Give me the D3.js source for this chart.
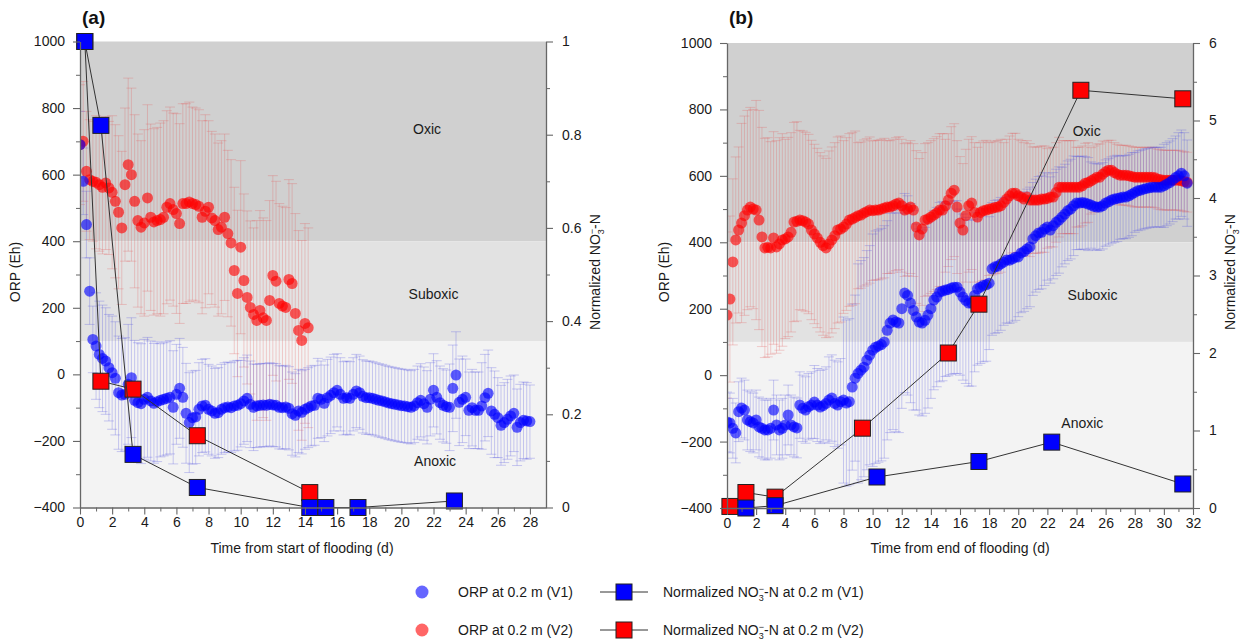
<!DOCTYPE html>
<html><head><meta charset="utf-8">
<script src="https://cdn.jsdelivr.net/npm/d3@7"></script>
<style>
body{margin:0;background:#fff}
svg{display:block;font-family:"Liberation Sans",Arial,sans-serif}
</style>
</head><body>
<svg id="chart" width="1243" height="642"></svg>
<script>
// ---------------- DATA ----------------
const STEP_DAYS = 0.2; // ORP logging interval used in these arrays (days)

// Panel (a): time from start of flooding
const orpV1_a = [690,580,450,250,105,85,60,48,40,20,
 5,-12,-55,-62,-60,-30,-10,-78,-85,-88,
 -75,-69,-80,-87,-82,-78,-75,-72,-69,-99,
 -60,-42,-69,-117,-145,-130,-128,-105,-95,-93,
 -105,-110,-117,-115,-105,-100,-98,-100,-95,-93,
 -88,-80,-72,-90,-99,-95,-93,-92,-93,-90,
 -92,-93,-99,-100,-98,-102,-118,-123,-110,-114,
 -105,-100,-95,-93,-72,-75,-87,-70,-63,-55,
 -48,-60,-72,-70,-72,-60,-50,-55,-66,-70,
 -70,-72,-75,-78,-80,-83,-86,-88,-90,-92,
 -94,-95,-97,-99,-95,-85,-78,-88,-99,-75,
 -48,-69,-85,-93,-97,-99,-42,-2,-84,-75,
 -69,-108,-100,-108,-108,-95,-70,-57,-110,-120,
 -130,-153,-145,-135,-125,-117,-159,-145,-138,-140,
 -142];
const sdV1_a = [100,160,170,180,180,170,150,140,135,135,130,125,125,125,120,115,110,110,110,110,110,110,110,130,115,130,120,115,110];

const orpV2_a = [690,700,610,585,580,577,570,562,575,560,
 547,520,487,440,570,630,600,520,462,442,
 455,530,472,458,462,465,472,502,513,495,
 483,453,513,513,518,513,510,505,472,490,
 502,470,462,435,442,472,423,395,312,243,
 382,282,231,201,180,162,192,170,162,222,
 297,280,213,205,201,285,273,183,132,102,
 153,140];
const sdV2_a = [180,200,230,260,280,290,300,290,260,250,260,300,300,300,300];

const no3DaysV1_a = [0.3,1.3,3.3,7.3,14.3,15.3,17.3,23.3];
const no3V1_a     = [1.0,0.82,0.114,0.043,0.0,0.0,0.0,0.014];
const no3DaysV2_a = [0.3,1.3,3.3,7.3,14.3];
const no3V2_a     = [1.0,0.271,0.254,0.154,0.032];

// Panel (b): time from end of flooding
const orpV1_b = [-141,-144,-160,-174,-110,-99,-105,-135,-140,-144,
 -135,-156,-160,-165,-165,-160,-105,-150,-165,-160,
 -150,-120,-150,-156,-159,-90,-100,-105,-95,-90,
 -81,-90,-96,-92,-85,-75,-69,-85,-90,-80,
 -75,-84,-80,-36,-9,5,15,24,45,60,
 75,84,88,92,100,135,157,166,160,157,
 200,247,240,217,195,175,160,157,165,181,
 200,226,235,250,253,256,258,262,265,265,
 250,235,225,217,217,240,260,265,270,272,
 277,320,326,328,335,340,347,346,350,355,
 356,368,372,380,386,410,420,428,430,440,
 446,437,450,460,467,476,485,495,500,510,
 518,518,520,518,515,512,508,506,506,510,
 518,522,527,530,532,534,536,536,540,545,
 550,555,557,560,562,564,566,566,566,566,
 570,575,580,587,595,600,608,600,578];
const sdV1_b = [90,90,90,90,90,100,110,130,250,330,350,330,300,280,270,260,250,230,200,190,180,170,160,150,140,130,130,125,120,120,125,130];

const orpV2_b = [181,229,341,407,437,458,480,497,506,500,
 497,467,416,383,385,383,413,386,395,407,
 410,416,430,461,463,467,465,461,455,437,
 425,413,400,390,383,395,407,420,437,440,
 446,455,467,470,475,480,482,488,492,497,
 495,497,497,500,503,506,506,510,515,518,
 510,497,500,506,497,446,422,440,467,470,
 476,482,488,497,497,510,527,548,557,506,
 458,437,480,510,518,490,476,490,495,497,
 500,502,505,506,510,520,530,540,548,548,
 540,536,530,536,527,527,527,527,530,530,
 532,536,536,550,566,566,566,566,566,566,
 566,566,570,578,580,585,590,596,596,605,
 612,617,617,610,605,602,602,602,600,598,
 596,596,596,596,596,596,596,594,590,588,
 587,587,587,587,587,587,585,583,581];
const sdV2_b = [250,300,330,320,300,270,270,280,260,220,210,200,200,230,230,200,200,210,200,180,170,160,150,140,120,100,90,90,90,90,90,90];

const no3DaysV1_b = [1.3,3.3,10.3,17.3,22.3,31.3];
const no3V1_b     = [0.0,0.03,0.40,0.60,0.85,0.31];
const no3DaysV2_b = [0.2,1.3,3.3,9.3,15.2,17.3,24.3,31.3];
const no3V2_b     = [0.02,0.20,0.14,1.03,2.0,2.63,5.39,5.28];

const zoneNames = ["Oxic","Suboxic","Anoxic"];
const zoneBounds = [[400,1000],[100,400],[-400,100]];
const orpTicks = [-400,-200,0,200,400,600,800,1000];
const legendLabels = ["ORP at 0.2 m (V1)","ORP at 0.2 m (V2)"];

// ---------------- DRAW ----------------
const svg = d3.select("#chart");
const zoneFill = ["#d0d0d0","#e2e2e2","#f3f3f3"];
const BLUE = "#0000ff", RED = "#ff0000";
const AX = "#666", TXT = "#1a1a1a";

function series(vals, sds){
  return vals.map((v,i)=>{const t=i*STEP_DAYS; return {t, v, sd: sds[Math.min(sds.length-1, Math.floor(t+1e-9))]};});
}

function styleAxis(g){
  g.select(".domain").attr("stroke",AX).attr("stroke-width",1.3);
  g.selectAll(".tick line").attr("stroke",AX).attr("stroke-width",1.1);
  g.selectAll(".tick text").attr("fill",TXT).attr("font-size",14);
}

function panel(cfg){
  const x = d3.scaleLinear().domain([0,cfg.xmax]).range([cfg.left,cfg.right]);
  const y = d3.scaleLinear().domain([-400,1000]).range([cfg.bottom,cfg.top]);
  const y2 = d3.scaleLinear().domain([0,cfg.nmax]).range([cfg.bottom,cfg.top]);
  const g = svg.append("g");
  const clipId = "clip"+cfg.id;
  svg.append("clipPath").attr("id",clipId).append("rect")
    .attr("x",cfg.left).attr("y",cfg.top).attr("width",cfg.right-cfg.left).attr("height",cfg.bottom-cfg.top);

  // zones
  g.selectAll("rect.zone").data(zoneBounds).join("rect")
    .attr("x",x(0)).attr("width",x(cfg.xmax)-x(0))
    .attr("y",d=>y(d[1])).attr("height",d=>y(d[0])-y(d[1]))
    .attr("fill",(d,i)=>zoneFill[i]);
  g.selectAll("text.zone").data(zoneNames).join("text")
    .attr("x",(d,i)=>x(cfg.zoneLab[i][0])).attr("y",(d,i)=>y(cfg.zoneLab[i][1]))
    .attr("text-anchor","middle").attr("dominant-baseline","middle")
    .attr("font-size",14).attr("fill",TXT).text(d=>d);

  const plot = g.append("g").attr("clip-path",`url(#${clipId})`);
  const s1 = series(cfg.v1, cfg.sd1), s2 = series(cfg.v2, cfg.sd2);

  function errbars(data,col){
    const eg = plot.append("g").attr("stroke",col).attr("stroke-width",1);
    eg.selectAll("line.v").data(data).join("line")
      .attr("x1",d=>x(d.t)).attr("x2",d=>x(d.t))
      .attr("y1",d=>y(d.v-d.sd)).attr("y2",d=>y(d.v+d.sd));
    eg.selectAll("line.u").data(data).join("line")
      .attr("x1",d=>x(d.t)-5).attr("x2",d=>x(d.t)+5)
      .attr("y1",d=>y(d.v+d.sd)).attr("y2",d=>y(d.v+d.sd));
    eg.selectAll("line.l").data(data).join("line")
      .attr("x1",d=>x(d.t)-5).attr("x2",d=>x(d.t)+5)
      .attr("y1",d=>y(d.v-d.sd)).attr("y2",d=>y(d.v-d.sd));
  }
  errbars(s2,"rgba(225,90,90,0.28)");
  errbars(s1,"rgba(90,90,225,0.30)");

  function dots(data,col){
    plot.append("g").selectAll("circle").data(data).join("circle")
      .attr("cx",d=>x(d.t)).attr("cy",d=>y(d.v)).attr("r",5.5)
      .attr("fill",col).attr("fill-opacity",0.62);
  }
  dots(s2,RED);
  dots(s1,BLUE);

  function no3(days,vals,col){
    const pts = days.map((d,i)=>[x(d),y2(vals[i])]);
    g.append("path").attr("d",d3.line()(pts)).attr("fill","none").attr("stroke","#333").attr("stroke-width",1);
    g.append("g").selectAll("rect").data(pts).join("rect")
      .attr("x",d=>d[0]-8).attr("y",d=>d[1]-8).attr("width",16).attr("height",16)
      .attr("fill",col).attr("stroke","#222").attr("stroke-width",1);
  }
  no3(cfg.d2,cfg.n2,RED);
  no3(cfg.d1,cfg.n1,BLUE);

  // axes
  const xMinor = d3.range(1,cfg.xmax,2).filter(v=>v<=cfg.xlast);
  g.append("g").attr("transform",`translate(0,${cfg.bottom})`)
    .call(d3.axisBottom(x).tickValues(xMinor).tickSize(4).tickFormat(""))
    .call(ax=>{ax.select(".domain").remove(); ax.selectAll(".tick line").attr("stroke",AX);});
  g.append("g").attr("transform",`translate(0,${cfg.bottom})`)
    .call(d3.axisBottom(x).tickValues(d3.range(0,cfg.xlast+1,2)).tickSize(7).tickSizeOuter(0).tickPadding(3).tickFormat(d3.format("d")))
    .call(styleAxis);

  g.append("g").attr("transform",`translate(${cfg.left},0)`)
    .call(d3.axisLeft(y).tickValues(d3.range(-300,1000,200)).tickSize(4).tickFormat(""))
    .call(ax=>{ax.select(".domain").remove(); ax.selectAll(".tick line").attr("stroke",AX);});
  g.append("g").attr("transform",`translate(${cfg.left},0)`)
    .call(d3.axisLeft(y).tickValues(orpTicks).tickSize(7).tickSizeOuter(0).tickPadding(8).tickFormat(d3.format("d")))
    .call(styleAxis);

  g.append("g").attr("transform",`translate(${cfg.right},0)`)
    .call(d3.axisRight(y2).tickValues(cfg.nMinor).tickSize(4).tickFormat(""))
    .call(ax=>{ax.select(".domain").remove(); ax.selectAll(".tick line").attr("stroke",AX);});
  g.append("g").attr("transform",`translate(${cfg.right},0)`)
    .call(d3.axisRight(y2).tickValues(cfg.nMajor).tickSize(7).tickSizeOuter(0).tickPadding(9).tickFormat(d3.format("~g")))
    .call(styleAxis);

  // titles
  g.append("text").attr("x",cfg.left+2).attr("y",24).attr("font-size",19).attr("font-weight","bold")
    .attr("fill","#111").text(cfg.title);
  g.append("text").attr("transform",`translate(${cfg.ylabX},272) rotate(-90)`)
    .attr("text-anchor","middle").attr("font-size",14).attr("fill",TXT).text("ORP (Eh)");
  const rt = g.append("text").attr("transform",`translate(${cfg.y2labX},272) rotate(-90)`)
    .attr("text-anchor","middle").attr("font-size",14).attr("fill",TXT);
  rt.append("tspan").text("Normalized NO");
  rt.append("tspan").attr("font-size",9).attr("dy",4).text("3");
  rt.append("tspan").attr("font-size",9).attr("dy",-9).attr("dx",-5).text("−");
  rt.append("tspan").attr("dy",5).text("-N");
  g.append("text").attr("x",(cfg.left+cfg.right)/2+cfg.xlabShift).attr("y",553)
    .attr("text-anchor","middle").attr("font-size",14).attr("fill",TXT).text(cfg.xlab);
}

panel({id:"a", title:"(a)", left:80, right:546, top:41.5, bottom:507.5, xmax:29, xlast:28,
  nmax:1, nMajor:[0,0.2,0.4,0.6,0.8,1], nMinor:[0.1,0.3,0.5,0.7,0.9],
  v1:orpV1_a, sd1:sdV1_a, v2:orpV2_a, sd2:sdV2_a,
  d1:no3DaysV1_a, n1:no3V1_a, d2:no3DaysV2_a, n2:no3V2_a,
  zoneLab:[[21.6,733],[22.0,237],[22.1,-264]],
  ylabX:20, y2labX:600, xlab:"Time from start of flooding (d)", xlabShift:-11});

panel({id:"b", title:"(b)", left:727, right:1193, top:43, bottom:508, xmax:32, xlast:32,
  nmax:6, nMajor:[0,1,2,3,4,5,6], nMinor:[0.5,1.5,2.5,3.5,4.5,5.5],
  v1:orpV1_b, sd1:sdV1_b, v2:orpV2_b, sd2:sdV2_b,
  d1:no3DaysV1_b, n1:no3V1_b, d2:no3DaysV2_b, n2:no3V2_b,
  zoneLab:[[24.7,732],[25.1,238],[24.4,-148]],
  ylabX:669, y2labX:1235, xlab:"Time from end of flooding (d)", xlabShift:0});

// ---------------- LEGEND ----------------
const lg = svg.append("g");
const rows = [592,630];
const cols = [BLUE,RED];
const tags = ["V1","V2"];
rows.forEach((ry,i)=>{
  lg.append("circle").attr("cx",422).attr("cy",ry).attr("r",6.5).attr("fill",cols[i]).attr("fill-opacity",0.6);
  lg.append("text").attr("x",458).attr("y",ry+5).attr("font-size",14).attr("fill",TXT).text(legendLabels[i]);
  lg.append("line").attr("x1",600).attr("x2",648).attr("y1",ry).attr("y2",ry).attr("stroke","#333");
  lg.append("rect").attr("x",616).attr("y",ry-8).attr("width",16).attr("height",16).attr("fill",cols[i]).attr("stroke","#222");
  const t = lg.append("text").attr("x",663).attr("y",ry+5).attr("font-size",14).attr("fill",TXT);
  t.append("tspan").text("Normalized NO");
  t.append("tspan").attr("font-size",9).attr("dy",4).text("3");
  t.append("tspan").attr("font-size",9).attr("dy",-9).attr("dx",-5).text("−");
  t.append("tspan").attr("dy",5).text(`-N at 0.2 m (${tags[i]})`);
});
</script>
</body></html>
